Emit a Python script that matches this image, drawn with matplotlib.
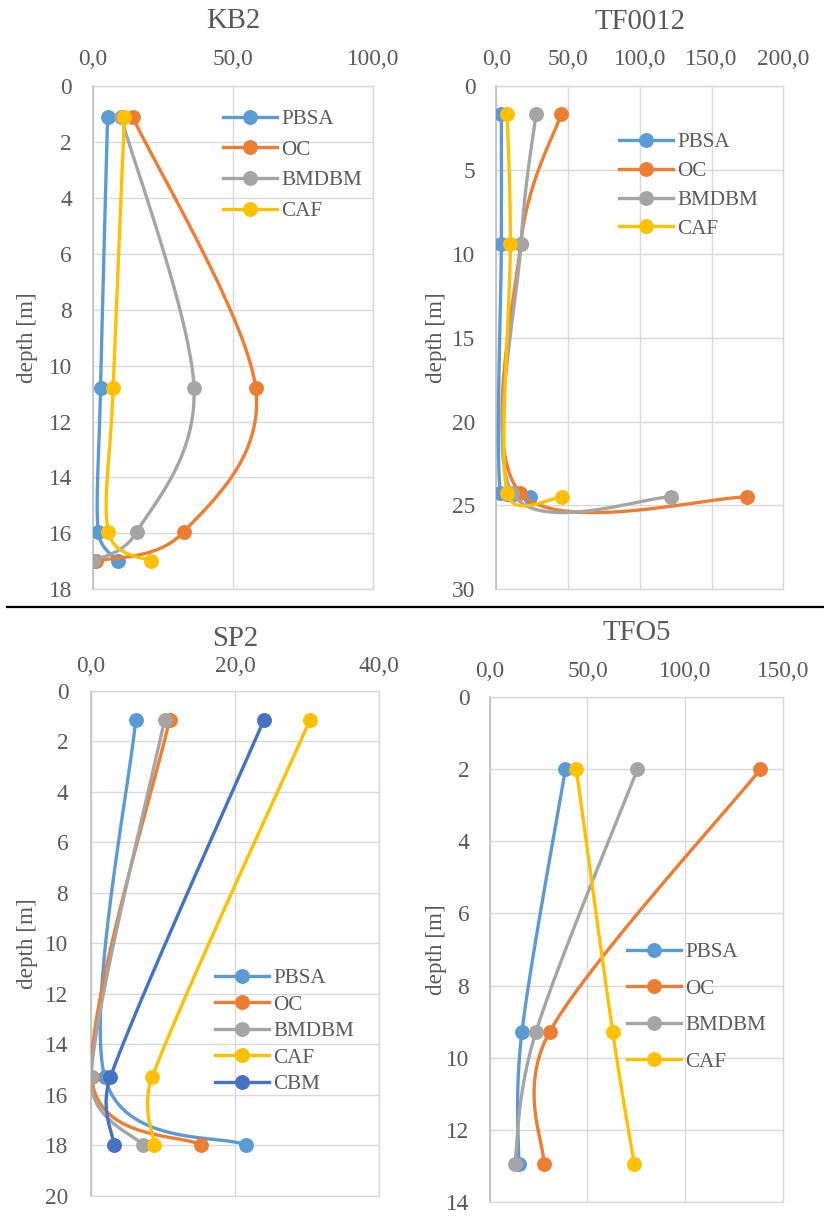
import numpy as np
import matplotlib
matplotlib.use("Agg")
import matplotlib.pyplot as plt
from matplotlib.lines import Line2D
from matplotlib.ticker import FuncFormatter, MultipleLocator

plt.rcParams['font.family'] = ['Liberation Serif', 'DejaVu Serif']

# ---------------- data ----------------
colors = {"PBSA": "#5B9BD5", "OC": "#ED7D31", "BMDBM": "#A5A5A5",
          "CAF": "#FFC000", "CBM": "#4472C4"}

kb2_depth = [1.1, 10.8, 15.95, 17.0]
kb2_PBSA = [5.3, 2.8, 2.0, 9.1]
kb2_OC = [14.2, 58.1, 32.4, 1.2]
kb2_BMDBM = [10.1, 36.1, 15.7, 0.0]
kb2_CAF = [11.3, 7.3, 5.6, 20.7]

tf12_depth = [1.65, 9.4, 24.25, 24.5]
tf12_PBSA = [3.5, 3.5, 2.8, 23.7]
tf12_OC = [45.3, 17.0, 16.7, 175.0]
tf12_BMDBM = [27.7, 17.2, 11.0, 122.0]
tf12_CAF = [7.5, 9.8, 7.5, 45.8]

sp2_depth = [1.15, 15.3, 18.0]
sp2_PBSA = [6.2, 1.9, 21.5]
sp2_OC = [10.9, 0.1, 15.3]
sp2_BMDBM = [10.2, 0.0, 7.2]
sp2_CAF = [30.4, 8.5, 8.8]
sp2_CBM = [24.0, 2.7, 3.2]

tfo5_depth = [2.0, 9.28, 12.95]
tfo5_PBSA = [38.7, 16.5, 14.8]
tfo5_OC = [138.4, 30.7, 27.6]
tfo5_BMDBM = [75.5, 23.7, 12.8]
tfo5_CAF = [44.3, 62.9, 73.9]

W, H = 824, 1216
fig = plt.figure(figsize=(W / 100, H / 100), dpi=100)

TXT = "#595959"
GRID = "#D9D9D9"


def rect(l, r, t, b):
    return [l / W, 1 - b / H, (r - l) / W, (b - t) / H]


def _clamp(v, maxlen):
    n = np.hypot(*v)
    if n > maxlen and n > 0:
        return v * (maxlen / n)
    return v


def smooth(ax, xs, ys, n=40):
    pts = ax.transData.transform(np.column_stack([xs, ys]))
    P = np.vstack([pts[0], pts, pts[-1]])
    out = []
    t = np.linspace(0, 1, n)[:, None]
    for i in range(1, len(P) - 2):
        p0, p1, p2, p3 = P[i - 1], P[i], P[i + 1], P[i + 2]
        seglen = np.hypot(*(p2 - p1))
        a1 = _clamp((p2 - p0) / 6, 0.5 * seglen)
        a2 = _clamp((p3 - p1) / 6, 0.5 * seglen)
        c1 = p1 + a1
        c2 = p2 - a2
        seg = (1 - t) ** 3 * p1 + 3 * (1 - t) ** 2 * t * c1 + 3 * (1 - t) * t ** 2 * c2 + t ** 3 * p2
        out.append(seg)
    c = np.vstack(out)
    return ax.transData.inverted().transform(c)


def panel(r, title, title_y, depth, series, xmax, xstep, ymax, ystep,
          xpad, ypad, ylab_x, leg_xy, leg_spacing):
    ax = fig.add_axes(rect(*r))
    ax.set_xlim(0, xmax)
    ax.set_ylim(ymax, 0)
    ax.xaxis.tick_top()
    ax.xaxis.set_major_locator(MultipleLocator(xstep))
    ax.yaxis.set_major_locator(MultipleLocator(ystep))
    ax.xaxis.set_major_formatter(FuncFormatter(lambda v, p: f"{v:.1f}".replace(".", ",")))
    ax.yaxis.set_major_formatter(FuncFormatter(lambda v, p: f"{v:.0f}"))
    ax.tick_params(axis='x', length=0, pad=xpad, labelsize=16.8, labelcolor=TXT)
    ax.tick_params(axis='y', length=0, pad=ypad, labelsize=16.8, labelcolor=TXT)
    ax.grid(True, color=GRID, lw=1.0)
    ax.set_axisbelow(True)
    for s in ['top', 'right', 'bottom']:
        ax.spines[s].set_color(GRID)
        ax.spines[s].set_linewidth(1.0)
    ax.spines['left'].set_color("#BFBFBF")
    ax.spines['left'].set_linewidth(1.2)
    ax.set_ylabel("depth [m]", fontsize=16.7, color=TXT, va='center')
    ax.yaxis.set_label_coords(ylab_x, 0.5)
    top = r[2]
    height = r[3] - r[2]
    ax.set_title(title, fontsize=20.7, color=TXT, y=1 + (top - title_y) / height,
                 va='center', pad=0)
    handles = []
    for name, vals in series:
        c = smooth(ax, vals, depth)
        ax.plot(c[:, 0], c[:, 1], color=colors[name], lw=2.4, solid_capstyle='round', zorder=3)
        ax.plot(vals, depth, 'o', color=colors[name], ms=9.7, zorder=3)
        handles.append(Line2D([], [], color=colors[name], lw=2.4, marker='o', ms=9.7))
    ax.legend(handles, [s[0] for s in series], loc='upper left',
              bbox_to_anchor=(leg_xy[0] / W, 1 - leg_xy[1] / H), bbox_transform=fig.transFigure,
              frameon=False, borderpad=0, borderaxespad=0, handlelength=2.56,
              handletextpad=0.2, labelspacing=leg_spacing, fontsize=15.2,
              labelcolor=TXT)
    return ax


panel((92.7, 373.3, 86, 589.3), "KB2", 21, kb2_depth,
      [("PBSA", kb2_PBSA), ("OC", kb2_OC), ("BMDBM", kb2_BMDBM), ("CAF", kb2_CAF)],
      100, 50, 18, 2, 11.5, 15, -0.234, (223, 109.5), 0.51)

panel((496.3, 783.3, 86, 589.3), "TF0012", 22, tf12_depth,
      [("PBSA", tf12_PBSA), ("OC", tf12_OC), ("BMDBM", tf12_BMDBM), ("CAF", tf12_CAF)],
      200, 50, 30, 5, 11.5, 15, -0.21, (618.7, 132.5), 0.43)

panel((91, 379.3, 690.7, 1195.7), "SP2", 639, sp2_depth,
      [("PBSA", sp2_PBSA), ("OC", sp2_OC), ("BMDBM", sp2_BMDBM), ("CAF", sp2_CAF), ("CBM", sp2_CBM)],
      40, 20, 20, 2, 9.9, 16.3, -0.22, (215, 968.5), 0.32)

panel((489.7, 783, 697.3, 1201.7), "TFO5", 633, tfo5_depth,
      [("PBSA", tfo5_PBSA), ("OC", tfo5_OC), ("BMDBM", tfo5_BMDBM), ("CAF", tfo5_CAF)],
      150, 50, 14, 2, 10.8, 14.7, -0.183, (627, 942.5), 0.79)

fig.add_artist(Line2D([7 / W, 1], [1 - 606.7 / H, 1 - 606.7 / H], color='black', lw=1.6,
                      transform=fig.transFigure))

fig.savefig("out.png", dpi=100)
